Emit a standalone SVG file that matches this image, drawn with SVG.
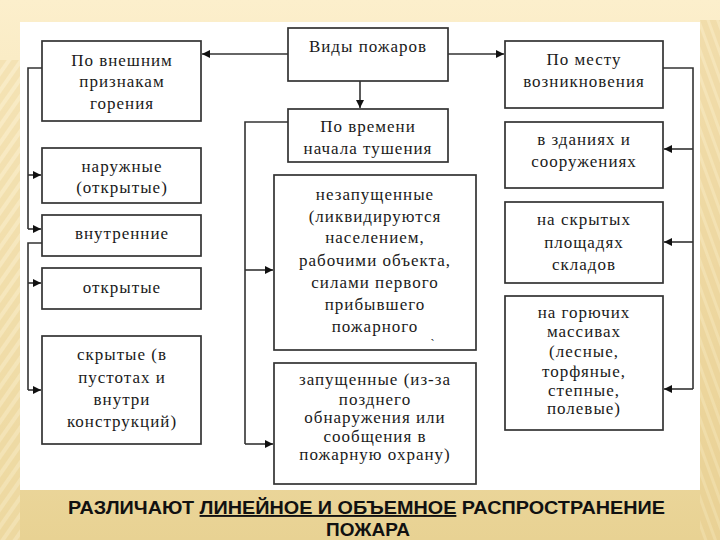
<svg xmlns="http://www.w3.org/2000/svg" width="720" height="540" viewBox="0 0 720 540">
<defs>
  <linearGradient id="bg" x1="0" y1="0" x2="0" y2="1">
    <stop offset="0" stop-color="#fcefcc"/>
    <stop offset="0.5" stop-color="#f3e1b0"/>
    <stop offset="1" stop-color="#e8d293"/>
  </linearGradient>
  <pattern id="stripes" width="10" height="10" patternUnits="userSpaceOnUse" patternTransform="rotate(35)">
    <rect width="10" height="10" fill="#f0dca8"/>
    <rect width="4" height="10" fill="#f8ebc6"/>
  </pattern>
  <pattern id="stripesR" width="9" height="9" patternUnits="userSpaceOnUse" patternTransform="rotate(-20)">
    <rect width="9" height="9" fill="#ead196"/>
    <rect width="3" height="9" fill="#f2e0b0"/>
  </pattern>
  <marker id="ah" viewBox="0 0 10 10" refX="10" refY="5" markerWidth="10" markerHeight="8" markerUnits="userSpaceOnUse" orient="auto">
    <path d="M0,0 L10,5 L0,10 z" fill="#111"/>
  </marker>
  <style>
    .box { fill: #ffffff; stroke: #333; stroke-width: 1.7; }
    .t { font-family: "Liberation Serif", "DejaVu Serif", "Times New Roman", serif; font-size: 17px; letter-spacing: 1px; fill: #1a1a1a; text-anchor: middle; }
    .c { fill: none; stroke: #333; stroke-width: 1.6; }
    .a { fill: none; stroke: #333; stroke-width: 1.6; marker-end: url(#ah); }
    .cap { font-family: "Liberation Sans", Arial, sans-serif; font-weight: bold; font-size: 19px; fill: #111; }
  </style>
</defs>

<!-- background -->
<rect x="0" y="0" width="720" height="540" fill="url(#bg)"/>
<rect x="0" y="60" width="20" height="480" fill="url(#stripes)" opacity="0.6"/>
<rect x="700" y="20" width="20" height="520" fill="url(#stripesR)" opacity="0.6"/>
<rect x="20" y="22" width="680" height="468" fill="#ffffff"/>

<!-- connectors -->
<g id="connectors">
  <line class="a" x1="288" y1="54" x2="202" y2="54"/>
  <line class="a" x1="448" y1="54" x2="504" y2="54"/>
  <line class="a" x1="360" y1="81" x2="360" y2="108"/>

  <polyline class="c" points="42,68 28,68 28,229"/>
  <line class="a" x1="28" y1="175" x2="41" y2="175"/>
  <line class="a" x1="28" y1="229" x2="41" y2="229"/>
  <polyline class="c" points="42,243 28,243 28,390"/>
  <line class="a" x1="28" y1="283" x2="41" y2="283"/>
  <line class="a" x1="28" y1="390" x2="41" y2="390"/>

  <polyline class="c" points="288,122 245,122 245,444"/>
  <line class="a" x1="245" y1="270" x2="273" y2="270"/>
  <line class="a" x1="245" y1="444" x2="273" y2="444"/>

  <polyline class="c" points="663,68 693,68 693,389"/>
  <line class="a" x1="693" y1="149" x2="664" y2="149"/>
  <line class="a" x1="693" y1="242" x2="664" y2="242"/>
  <line class="a" x1="693" y1="389" x2="664" y2="389"/>
</g>

<g id="vidy">
  <rect class="box" x="288" y="28" width="160" height="53"/>
  <text class="t" x="368" y="52">Виды пожаров</text>
</g>
<g id="vneshnim">
  <rect class="box" x="42" y="41" width="159" height="80"/>
  <text class="t" x="122" y="66">По внешним</text>
  <text class="t" x="122" y="87">признакам</text>
  <text class="t" x="122" y="109">горения</text>
</g>
<g id="mestu">
  <rect class="box" x="505" y="41" width="158" height="67"/>
  <text class="t" x="584" y="65">По месту</text>
  <text class="t" x="584" y="87">возникновения</text>
</g>
<g id="zdaniyah">
  <rect class="box" x="505" y="122" width="158" height="66"/>
  <text class="t" x="584" y="145">в зданиях и</text>
  <text class="t" x="584" y="167">сооружениях</text>
</g>
<g id="skladov">
  <rect class="box" x="505" y="202" width="158" height="81"/>
  <text class="t" x="584" y="225">на скрытых</text>
  <text class="t" x="584" y="248">площадях</text>
  <text class="t" x="584" y="270">складов</text>
</g>
<g id="massivah">
  <rect class="box" x="505" y="296" width="158" height="134"/>
  <text class="t" x="584" y="318">на горючих</text>
  <text class="t" x="584" y="337">массивах</text>
  <text class="t" x="584" y="357">(лесные,</text>
  <text class="t" x="584" y="377">торфяные,</text>
  <text class="t" x="584" y="396">степные,</text>
  <text class="t" x="584" y="414">полевые)</text>
</g>
<g id="vremeni">
  <rect class="box" x="288" y="109" width="160" height="53"/>
  <text class="t" x="368" y="132">По времени</text>
  <text class="t" x="368" y="154">начала тушения</text>
</g>
<g id="nezapushennye">
  <rect class="box" x="274" y="175" width="202" height="175"/>
  <text class="t" x="375" y="200">незапущенные</text>
  <text class="t" x="375" y="222">(ликвидируются</text>
  <text class="t" x="375" y="243">населением,</text>
  <text class="t" x="375" y="266">рабочими объекта,</text>
  <text class="t" x="375" y="288">силами первого</text>
  <text class="t" x="375" y="310">прибывшего</text>
  <text class="t" x="375" y="332">пожарного</text>
  <text class="t" x="433" y="348" style="font-size:12px">`</text>
</g>
<g id="zapushennye">
  <rect class="box" x="274" y="363" width="202" height="121"/>
  <text class="t" x="375" y="385">запущенные (из-за</text>
  <text class="t" x="375" y="405">позднего</text>
  <text class="t" x="375" y="423">обнаружения или</text>
  <text class="t" x="375" y="442">сообщения в</text>
  <text class="t" x="375" y="460">пожарную охрану)</text>
</g>
<g id="naruzhnye">
  <rect class="box" x="42" y="148" width="159" height="55"/>
  <text class="t" x="122" y="172">наружные</text>
  <text class="t" x="122" y="193">(открытые)</text>
</g>
<g id="vnutrennie">
  <rect class="box" x="42" y="215" width="159" height="41"/>
  <text class="t" x="122" y="239">внутренние</text>
</g>
<g id="otkrytye">
  <rect class="box" x="42" y="268" width="159" height="41"/>
  <text class="t" x="122" y="293">открытые</text>
</g>
<g id="skrytye">
  <rect class="box" x="42" y="336" width="159" height="108"/>
  <text class="t" x="122" y="360">скрытые (в</text>
  <text class="t" x="122" y="383">пустотах и</text>
  <text class="t" x="122" y="405">внутри</text>
  <text class="t" x="122" y="427">конструкций)</text>
</g>

<g id="caption">
  <text class="cap" x="68" y="514" textLength="597" lengthAdjust="spacingAndGlyphs">РАЗЛИЧАЮТ <tspan text-decoration="underline">ЛИНЕЙНОЕ И ОБЪЕМНОЕ</tspan> РАСПРОСТРАНЕНИЕ</text>
  <text class="cap" x="368" y="536" text-anchor="middle">ПОЖАРА</text>
</g>
</svg>
